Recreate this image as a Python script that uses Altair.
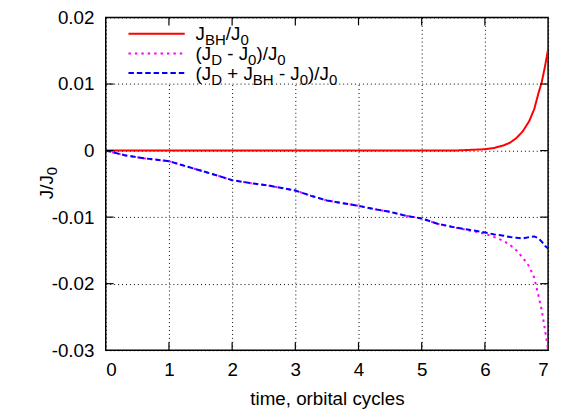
import altair as alt
import pandas as pd

# ---------------- data ----------------
t = [0, 0.3, 0.6, 1.0, 1.25, 1.5, 1.75, 2.0, 2.3, 2.6, 3.0, 3.25, 3.5, 3.75,
     4.0, 4.25, 4.5, 4.75, 5.0, 5.25, 5.5, 5.75, 6.0, 6.15, 6.3, 6.4, 6.5,
     6.6, 6.7, 6.78, 6.85, 6.9, 6.95, 7.0]
j_bh = [0, 0, 0, 0, 0, 0, 0, 0, 0, 0, 0, 0, 0, 0,
        0, 0, 0, 0, 0, 0, 0, 0.0001, 0.0002, 0.0004, 0.0008, 0.0012, 0.0019,
        0.0029, 0.0044, 0.0062, 0.0087, 0.0103, 0.0126, 0.0152]
j_d = [0, -0.0007, -0.00115, -0.0016, -0.0023, -0.0030, -0.0037, -0.00445,
       -0.0049, -0.0053, -0.0060, -0.0068, -0.0075, -0.0079, -0.0083, -0.0088,
       -0.0092, -0.0098, -0.0102, -0.0110, -0.0115, -0.0120, -0.0125, -0.0130,
       -0.0136, -0.0142, -0.0150, -0.0161, -0.0174, -0.0191, -0.0219, -0.0240,
       -0.0269, -0.0299]
j_tot = [0, -0.0007, -0.00115, -0.0016, -0.0023, -0.0030, -0.0037, -0.00445,
         -0.0049, -0.0053, -0.0060, -0.0068, -0.0075, -0.0079, -0.0083, -0.0088,
         -0.0092, -0.0098, -0.0102, -0.0110, -0.0115, -0.0119, -0.0123, -0.0126,
         -0.0128, -0.0130, -0.0131, -0.0132, -0.0130, -0.0129, -0.0132, -0.0137,
         -0.0143, -0.0147]

x_ticks = [0, 1, 2, 3, 4, 5, 6, 7]
y_ticks = [-0.03, -0.02, -0.01, 0, 0.01, 0.02]
x_title = "time, orbital cycles"

# legend / axis-title labels as (text, is_subscript) parts
lab_bh = [("J", False), ("BH", True), ("/J", False), ("0", True)]
lab_d = [("(J", False), ("D", True), (" - J", False), ("0", True), (")/J", False), ("0", True)]
lab_tot = [("(J", False), ("D", True), (" + J", False), ("BH", True), (" - J", False),
           ("0", True), (")/J", False), ("0", True)]
lab_y = [("J/J", False), ("0", True)]

# ---------------- layout ----------------
W, H = 448, 337
FONT = "Liberation Sans"
FS = 19

ADV = {"J": 500, "B": 667, "H": 722, "D": 722, "0": 556, "(": 333, ")": 333,
       "/": 278, " ": 278, "-": 333, "+": 584}


def text_width(s, fs):
    return sum(ADV[c] for c in s) * fs / 1000.0


def pieces(parts, x0, y0, fs_main, fs_sub, shift, vertical=False):
    rows = []
    adv = 0.0
    for txt, sub in parts:
        fs = fs_sub if sub else fs_main
        lead = len(txt) - len(txt.lstrip(" "))
        adv += text_width(" " * lead, fs)
        s = txt.strip(" ")
        if vertical:
            rows.append(dict(text=s, px=x0 + (shift if sub else 0), py=y0 - adv, fs=fs, ang=270))
        else:
            rows.append(dict(text=s, px=x0 + adv, py=y0 + (shift if sub else 0), fs=fs, ang=0))
        adv += text_width(s, fs)
    return rows


rows = []
rows += pieces(lab_bh, 91, 23, FS, 15.2, 5)
rows += pieces(lab_d, 91, 43, FS, 15.2, 5)
rows += pieces(lab_tot, 91, 63, FS, 15.2, 5)
rows += pieces(lab_y, -53, 184, 19, 15, 4, vertical=True)

df = pd.DataFrame({"t": t, "bh": j_bh, "d": j_d, "tot": j_tot})
one = pd.DataFrame({"a": [0]})

xs = alt.Scale(domain=[0, 7], nice=False, zero=False)
ys = alt.Scale(domain=[-0.03, 0.02], nice=False, zero=False)

x_axis = alt.Axis(values=x_ticks, format="d", grid=True, gridColor="black",
                  gridDash=[1, 3], gridWidth=1, gridOpacity=1, domain=False,
                  ticks=False, labelFont=FONT, labelFontSize=FS, labelColor="black",
                  labelPadding=11, titleFont=FONT, titleFontSize=FS,
                  titleFontWeight="normal", titleColor="black",
                  titleBaseline="alphabetic", titleY=55)
y_axis = alt.Axis(values=y_ticks, grid=True, gridColor="black",
                  gridDash=[1, 3], gridWidth=1, gridOpacity=1, domain=False,
                  ticks=False, labelFont=FONT, labelFontSize=FS, labelColor="black",
                  labelPadding=12,
                  labelExpr="datum.value == 0 ? '0' : (datum.value < 0 ? '-' + format(-datum.value, '.2f') : format(datum.value, '.2f'))")


def X(field):
    return alt.X(f"{field}:Q", scale=xs, axis=x_axis, title=x_title)


def Y(field):
    return alt.Y(f"{field}:Q", scale=ys, axis=y_axis, title=None)


# white legend box
legend_box = alt.Chart(one).mark_rect(fill="white").encode(
    x=alt.value(15), x2=alt.value(263), y=alt.value(1.5), y2=alt.value(66)
)


def series(field, color, dash):
    return alt.Chart(df).mark_line(color=color, strokeWidth=2, strokeDash=dash, clip=True).encode(
        x=X("t"), y=Y(field), order="t:Q",
    )


red = series("bh", "#ff0000", [1, 0])
mag = series("d", "#ff00ff", [2.5, 4])
blue = series("tot", "#0000ff", [5.5, 3])


def sample(y, color, dash):
    return alt.Chart(one).mark_rule(color=color, strokeWidth=2, strokeDash=dash).encode(
        x=alt.value(23), x2=alt.value(80), y=alt.value(y)
    )


samples = [sample(16.5, "#ff0000", [1, 0]), sample(36.5, "#ff00ff", [2.5, 4]),
           sample(56.2, "#0000ff", [5.5, 3])]

# inward tick marks (all four sides)
xt = pd.DataFrame({"t": x_ticks[1:-1]})
yt = pd.DataFrame({"tot": y_ticks[1:-1]})
TK = 8
ticks = [
    alt.Chart(xt).mark_rule(color="black", strokeWidth=1.2).encode(
        x=X("t"), y=alt.value(H), y2=alt.value(H - TK)),
    alt.Chart(xt).mark_rule(color="black", strokeWidth=1.2).encode(
        x=X("t"), y=alt.value(0), y2=alt.value(TK)),
    alt.Chart(yt).mark_rule(color="black", strokeWidth=1.2).encode(
        y=Y("tot"), x=alt.value(0), x2=alt.value(TK)),
    alt.Chart(yt).mark_rule(color="black", strokeWidth=1.2).encode(
        y=Y("tot"), x=alt.value(W), x2=alt.value(W - TK)),
]

texts = [
    alt.Chart(one).mark_text(align="left", baseline="alphabetic", font=FONT, color="black",
                             fontSize=r["fs"], angle=r["ang"], text=r["text"]).encode(
        x=alt.value(r["px"]), y=alt.value(r["py"]))
    for r in rows
]

chart = alt.layer(legend_box, red, mag, blue, *samples, *ticks, *texts).properties(
    width=W, height=H,
    autosize=alt.AutoSizeParams(type="none"),
    padding={"left": 99, "top": 7, "right": 7, "bottom": 62},
    background="white",
).configure_view(stroke="black", strokeWidth=1.5).configure_axis(
    titleFontWeight="normal", labelFontWeight="normal")

chart.save("out.html", embed_options={"renderer": "svg", "actions": False})
